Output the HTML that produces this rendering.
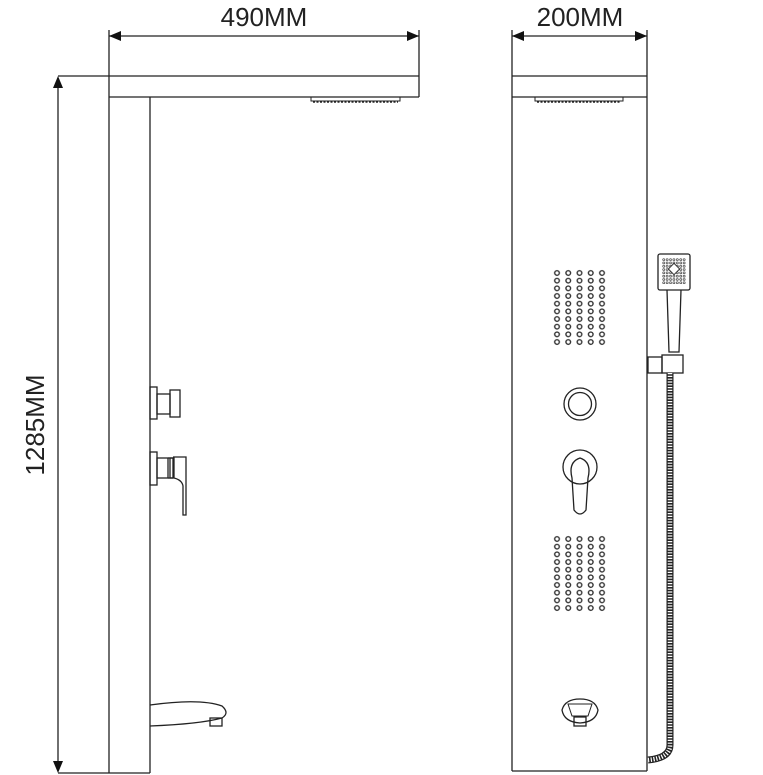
<!DOCTYPE html>
<html><head><meta charset="utf-8"><style>html,body{margin:0;padding:0;background:#fff}svg{display:block}</style></head>
<body>
<svg width="763" height="775" viewBox="0 0 763 775" xmlns="http://www.w3.org/2000/svg">
<defs>
<pattern id="dots" x="551.4" y="269.2" width="11.25" height="7.67" patternUnits="userSpaceOnUse">
<circle cx="5.6" cy="3.8" r="2.3" fill="none" stroke="#333" stroke-width="1.4"/>
</pattern>
<pattern id="dots2" x="551.4" y="535.2" width="11.25" height="7.67" patternUnits="userSpaceOnUse">
<circle cx="5.6" cy="3.8" r="2.3" fill="none" stroke="#333" stroke-width="1.4"/>
</pattern>
<pattern id="hs" x="662" y="258" width="3.4" height="3.3" patternUnits="userSpaceOnUse">
<circle cx="1.7" cy="1.65" r="1" fill="none" stroke="#333" stroke-width="0.7"/>
</pattern>
</defs>
<g fill="none" stroke="#222" stroke-width="1.3">
<line x1="109" y1="36" x2="419" y2="36"/>
<line x1="109" y1="30" x2="109" y2="773"/>
<line x1="419" y1="30" x2="419" y2="97"/>
<line x1="58" y1="76" x2="419" y2="76"/>
<line x1="58" y1="80" x2="58" y2="770"/>
<line x1="58" y1="773" x2="150" y2="773"/>
<line x1="109" y1="97" x2="419" y2="97"/>
<line x1="150" y1="97" x2="150" y2="773"/>
<rect x="311" y="97" width="89" height="4" stroke-width="1"/>
<line x1="313" y1="102" x2="398" y2="102" stroke-dasharray="2,1.5" stroke-width="1.5"/>
<rect x="150" y="387" width="7" height="32"/>
<rect x="157" y="394" width="13" height="20"/>
<rect x="170" y="390" width="10" height="27"/>
<rect x="150" y="452" width="7" height="33"/>
<rect x="157" y="458" width="11" height="20"/>
<line x1="168" y1="458" x2="173" y2="458"/><line x1="168" y1="478" x2="173" y2="478"/>
<rect x="170" y="458" width="3" height="20"/>
<path d="M173 457 H186 V515 H183 V486 Q182 480 174 478 V457"/>
<path d="M150 705 Q200 698 222 706 Q230 713 222 718 Q200 724 150 726"/>
<rect x="210" y="718" width="12" height="8"/>
<line x1="512" y1="36" x2="647" y2="36"/>
<line x1="512" y1="30" x2="512" y2="771"/>
<line x1="647" y1="30" x2="647" y2="771"/>
<line x1="512" y1="76" x2="647" y2="76"/>
<line x1="512" y1="97" x2="647" y2="97"/>
<line x1="512" y1="771" x2="647" y2="771"/>
<rect x="535" y="97" width="88" height="4" stroke-width="1"/>
<line x1="537" y1="102" x2="621" y2="102" stroke-dasharray="2,1.5" stroke-width="1.5"/>
<circle cx="580" cy="404" r="16"/>
<circle cx="580" cy="404" r="11.5"/>
<circle cx="580" cy="467" r="17"/>
<path d="M572 478 Q568 462 580 458 Q592 462 588 478 L586 510 Q580 518 574 510 Z"/>
<path d="M562 710 Q565 699 580 699 Q595 699 598 710 Q596 722 580 723 Q564 722 562 710 Z"/>
<path d="M568 704 H592 L588 716 H572 Z" stroke-width="1"/>
<rect x="574" y="717" width="12" height="9"/>
<rect x="658" y="254" width="32" height="36" rx="2"/>
<path d="M667 290 L669 352 H679 L681 290"/>
<rect x="648" y="357" width="14" height="16"/>
<rect x="662" y="355" width="21" height="18"/>
<path d="M670 373 V745 Q670 758 648 760" stroke="#222" stroke-width="7"/>
<path d="M670 373 V745 Q670 758 648 760" stroke="#fff" stroke-width="4.6" stroke-dasharray="1.2,1.6"/>
</g>
<rect x="662" y="258" width="24" height="26" fill="url(#hs)"/>
<rect x="670" y="265" width="8" height="8" fill="#fff" stroke="#333" stroke-width="1" transform="rotate(45 674 269)"/>
<rect x="551.4" y="269.2" width="56.25" height="76.7" fill="url(#dots)"/>
<rect x="551.4" y="535.2" width="56.25" height="76.7" fill="url(#dots2)"/>
<g fill="#111">
<polygon points="109,36 121,31 121,41"/>
<polygon points="419,36 407,31 407,41"/>
<polygon points="512,36 524,31 524,41"/>
<polygon points="647,36 635,31 635,41"/>
<polygon points="58,76 53,88 63,88"/>
<polygon points="58,773 53,761 63,761"/>
</g>
<g font-family="Liberation Sans, Arial, sans-serif" font-size="26" fill="#222">
<text x="264" y="26" text-anchor="middle">490MM</text>
<text x="580" y="26" text-anchor="middle">200MM</text>
<text transform="translate(44 425) rotate(-90)" text-anchor="middle">1285MM</text>
</g>
</svg>
</body></html>
